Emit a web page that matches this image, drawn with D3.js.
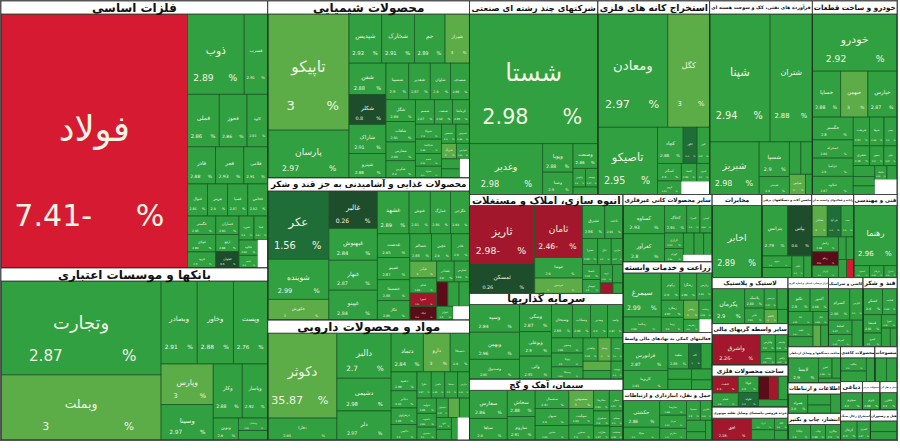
<!DOCTYPE html>
<html>
<head>
<meta charset="utf-8">
<script src="https://cdn.jsdelivr.net/npm/d3@7"></script>
<style>
body { margin: 0; background: #fff; }
svg { display: block; font-family: "DejaVu Sans", sans-serif; }
</style>
</head>
<body>
<svg id="map" width="900" height="448"></svg>
<script>
var width = 896, height = 439;

// sectors, in the order the map places them
var sectorNames = [
  "فلزات اساسی", "بانکها و موسسات اعتباری", "محصولات شیمیایی",
  "محصولات غذایی و آشامیدنی به جز قند و شکر", "مواد و محصولات دارویی",
  "شرکتهای چند رشته ای صنعتی", "استخراج کانه های فلزی",
  "فرآورده های نفتی، کک و سوخت هسته ای", "خودرو و ساخت قطعات",
  "انبوه سازی، املاک و مستغلات", "سرمایه گذاریها", "سیمان، آهک و گچ",
  "سایر محصولات کانی غیرفلزی", "زراعت و خدمات وابسته",
  "فعالیتهای کمکی به نهادهای مالی واسط", "حمل و نقل، انبارداری و ارتباطات",
  "مخابرات", "ماشین آلات و دستگاههای برقی", "رایانه و فعالیتهای وابسته به آن",
  "فنی و مهندسی", "لاستیک و پلاستیک", "سایر واسطه گریهای مالی",
  "ساخت محصولات فلزی", "خرده فروشی،باستثنای وسایل نقلیه موتوری",
  "ابزار پزشکی، اپتیکی و اندازه گیری", "کاشی و سرامیک", "قند و شکر",
  "ساخت دستگاهها و وسایل ارتباطی", "اطلاعات و ارتباطات", "انتشار، چاپ و تکثیر",
  "محصولات کاغذی", "منسوجات", "دباغی", "محصولات چرمی", "حمل و نقل آبی",
  "استخراج زغال سنگ", "هتل و رستوران"
];

// symbols per sector ("" = empty cell)
var tileNames = [
  ["فولاد","ذوب","فسرب","فملی","فخوز","کاوه","فاذر","فجر","فلامی","فنوال","هرمز","فسپا","فخاس","فگستر","فولای","فرود","فسازان","ارفع","فجهان","فنورد","فپنتا","فکاوه","فامیر",""],
  ["وتجارت","وبملت","وبصادر","وخاور","وپست","وپارس","وسینا","وکار","وپاسار","ونوین","وسامان","وآیند"],
  ["تاپیکو","پارسان","شپدیس","شخارک","جم","شیراز","شفن","شکلر","شاراک","شپترو","شسینا","شغدیر","شاوان","شصدف","شگل","شلعاب","شفارس","شکربن","شسم","شنفت","کرماشا","شتوکا","شپاکسا","شجم","شمواد","شبصیر","شدوص","شزنگ","شپارس","شرنگی","شیران",""],
  ["عکر","شوینده","غکورش","غالبر","غبهنوش","غبهار","غپینو","غشهد","غنوش","غمارگ","غگرجی","غدشت","غمینو","غشصفا","غگل","غسالم","غچین","غاذر","غپآذر","غدام","غمهرا","غپاک","غشاذر","غفارس","غخزر","غزر","غصینو","غیوان",""],
  ["دکوثر","دفارا","دالبر","دشیمی","دلر","دتماد","دارو","دسبحا","دعبید","دجابر","دزهراوی","دکیمی","دفرا","دامین","دسینا","دپارس","دتولید","داسوه","دشیری","دکپسول","دبالک","درازک","داوه","دقاضی","دیران",""],
  ["شستا","وغدیر","وپویا","وصنا","وصنعت","واتوس","وتوسم","ونیرو"],
  ["ومعادن","کگل","تاصیکو","کچاد","کگهر","کنور","کمنگنز","کروی","کدما","کپرور",""],
  ["شپنا","شتران","شبریز","شسپا","شبندر","شرانل","نفتا","شپاس","شبهرن"],
  ["خودرو","خساپا","خبهمن","خپارس","خگستر","خمحرکه","خزامیا","خکاوه","خریخت","ختوقا","خفنر","خشرق","خمهر","خاور","خاهن","خرینگ","خچرخش","خکمک","خلنت",""],
  ["ثاریز","ثمسکن","ثامان","ثنوسا","ثپردیس","ثشرق","ثاخت","ثعمرا","ثباغ","ثفارس","ثاصفا","ثبهساز","ثرود","ثالوند","ثشاهد","ثنظام"],
  ["وسپه","وبهمن","وصندوق","ونیکی","وبوعلی","واتی","وسبحان","وسکاب","ومدیر","وامید","وسپهر","وتوکا","وسمگا","وکغدیر","وساپا","ونفت","وآتوس","ولساپا","وتوشه"],
  ["سفارس","سپاها","سخاش","ساروم","سشمال","سبهان","سدور","سصوفی","سهگمت","سخزر","سکرما","سفار","سشرق","ساراب","سفانو","سدشت"],
  ["کساوه","کفرآور","کخاک","کسرا","کچینی","کرازی","کهرام","کفپارس","کسعدی","کلوند",""],
  ["سیمرغ","زمگسا","زکوثر","زشگزا","زپارس","زملارد","زبینا","زفجر","زدشت","زشریف",""],
  ["فرابورس","کاریزما","مفید","آگاه","سیتا","نیان","بورس","اوان","تمدن"],
  ["حکشتی","حتوکا","حپارسا","حریل","حفارس","حسینا","حآفرین","حبندر","حسیر","حشکوه"],
  ["اخابر"],
  ["بترانس","بپاس","بموتو","بنیرو","بکاب","بالبر"],
  ["مفاخر","فن آوا","سپ","رکیش","رتکو","اپرداز","سیستم","مداران","افرانت","رانفور"],
  ["رهنما","کیسون","مرقام","خدیزل"],
  ["پکرمان","پلاسک","پتایر","پدرخش","پسهند","پاکشو","پارتا"],
  ["واشرق","ولپارس","ولصنم","ولملت","وکادو"],
  ["فنفت","فجام","فوکا","فلوله","فبیرا","فاراک","فتوسا","فزر"],
  ["افق","اترک","کالا","اکالا","افرا"],
  ["تکنو","آکنتور","تابا","لطیف","درمان","اپال","کپشیر","لکما"],
  ["کسرام","کپارس","کحافظ","کمرجان","کاسپین"],
  ["قشکر","قثابت","قنیشا","قمرو","قپیرا","قزوین","قشیر"],
  ["لابسا","لخزر","لسرما","لپارس"],
  ["همراه","آپ","اعتلا","تاپ"],
  ["چکاپا","چاپ","چکارن"],
  ["چکاوه","چفیبر","چدن"],
  ["نبروج","نطرین"],
  ["سچرم"],
  ["چرم"],
  ["حخزر"],
  ["کزغال","کشرق"],
  ["گکیش","گشان"]
];

// market size of each symbol
var tileSizes = [
  [499,48,20,17.6,15.4,11.5,11,11,9.4,6.8,6.8,6.8,6.8,5.5,5.2,4.8,4.5,4.2,4,3.8,3.5,3,2.5,3],
  [163,113,32.5,32.5,31,23,20,17,15,6,4,3],
  [102,42,17.4,17.4,16.3,13,12.5,12,11.6,9.8,9,8.5,8,7.5,7,6.5,6,5.5,5,4.8,4.5,4.2,4,3.6,3.3,3,2.8,2.5,2.2,2,1.8,2],
  [46,27,14,20,17,16,16,15,10,9.5,9,8.5,8,7.5,7,6.5,6,5.5,5,4.5,4,4,4,3.5,3,3,2.8,2.5,2.5],
  [66,17,27.5,20,17.7,14,11.7,8.4,5.5,5,4.8,4.5,4.2,4,3.8,3.5,3.3,3,2.8,2.6,2.4,2.2,2,1.8,1.6,3],
  [179,40,9.3,7.3,6.6,2.5,2.5,2],
  [85,51,43,10,5.4,4.9,4.5,3.5,3,2.5,4],
  [83,58,28,11.3,5.8,4,4,3.5,1.5],
  [52,14,13.4,14.4,10,8,8,8,5,4.5,4,3.5,3,2.8,2.5,2.2,2,1.8,1.5,3.6],
  [42.7,22,28,11,8.3,8.3,6.8,4.5,4,3.5,3,2.8,2.5,2.2,1.5,1.2],
  [16,15.6,11.5,10,9,8.5,8,7,6.5,6,5.5,5,4.5,4,3.5,3.2,3,2.8,2.5],
  [13,10,9,8,7.5,7,6,5.5,5,4.5,4,3.5,3,2.8,2.5,2.2],
  [14,14,7.3,4.4,4,3.5,3,2.8,2.5,2.2,2.5],
  [20,7,6,5.5,5,4.5,4,3.5,3,2.5,2],
  [15,10.7,6.5,4,3.5,3,3,2.8,2.5],
  [12.5,6,5,4.5,4,3.5,3,2.8,2,1.7],
  [41.5],
  [15,14,4,3.5,3,2],
  [5.6,5,4.6,4.6,4.3,3.7,2,2,1.7,1.5],
  [30,2.2,2,1.8],
  [15,5,4,3.5,3,2.5,2],
  [20,3.5,3,2.8,2.2],
  [6,5,4.5,4,3.5,3,3,3],
  [13,4,3.5,2.5,2],
  [6,5,4,3.5,3,2.5,2,2],
  [8,5,4,3.5,3.5],
  [6,4.5,4,3,2.5,2,1.5],
  [11,4,2.5,1.5],
  [6,4,3,3],
  [6,4,4],
  [5,4,3],
  [4,3.7],
  [6.2],
  [5],
  [4.8],
  [5,4],
  [4.5,3.5]
];

// daily change, percent (null = empty cell)
var tileChanges = [
  [-7.41,2.89,2.91,2.86,2.86,2.91,2.88,2.93,2.91,2.86,2.9,2.87,2.92,2.95,2.89,2.9,2.91,2.88,0.6,2.9,2.87,2.92,2.9,null],
  [2.87,3,2.91,2.88,2.76,3,2.97,2.88,2.92,2.9,2.85,2.9],
  [3,2.97,2.92,2.91,2.89,3,2.88,0.8,2.91,2.88,2.9,2.87,2.9,2.86,2.89,2.91,2.88,2.9,2.87,2.92,2.86,2.9,2.88,2.91,2.87,2.9,2.86,3,2.89,2.9,2.88,null],
  [1.56,2.99,3,0.26,2.84,2.87,2.84,2.89,2.91,2.86,2.84,2.85,2.87,2.88,2.86,2.88,2.9,2.9,3,2.88,-1.8,-0.4,2.9,2.86,-0.6,2.9,2.88,2.9,null],
  [35.87,2.95,2.7,2.98,2.97,2.84,3,2.9,2.88,2.91,2.86,2.9,2.87,2.89,2.9,2.92,2.88,2.86,2.9,2.87,3,2.89,2.9,2.88,2.9,null],
  [2.98,2.98,2.88,2.9,2.86,2.9,2.87,2.88],
  [2.97,3,2.95,2.88,1.2,2.87,2.9,2.92,2.86,2.9,null],
  [2.94,2.88,2.98,2.9,2.9,2.87,2.91,3,2.89],
  [2.92,2.88,3,2.87,2.8,2.86,2.9,2.87,2.91,2.88,2.9,2.86,2.9,2.87,2.89,2.9,2.86,2.92,2.9,null],
  [-2.98,0.26,-2.46,2.9,3,2.86,2.91,2.88,2.9,2.87,2.92,2.9,2.88,2.9,-1.4,2.89],
  [2.84,2.96,2.86,2.87,2.9,2.91,2.88,2.86,2.9,2.87,2.89,2.9,2.86,2.92,3,2.9,3,2.88,2.9],
  [2.86,2.9,2.88,2.91,2.87,2.9,2.89,3,2.88,2.9,2.86,2.91,2.9,2.87,2.9,2.88],
  [2.93,2.8,2.95,2.9,2.88,2.91,2.86,2.9,2.87,2.9,null],
  [2.99,2.88,2.9,2.86,2.91,2.87,2.9,3,2.88,2.9,null],
  [2.87,2.91,2.88,1.0,2.9,2.86,2.9,2.88,2.87],
  [2.86,2.9,2.88,2.91,2.87,2.9,2.86,2.9,2.88,2.9],
  [2.89],
  [2.79,0.6,2.9,2.88,2.9,2.87],
  [3,1.4,2.9,2.88,-0.8,2.9,2.87,2.9,2.88,-4.5],
  [2.96,2.9,2.88,2.9],
  [2.9,2.88,2.91,2.87,2.9,3,2.88],
  [-2.26,2.9,2.88,2.9,2.87],
  [-2.4,2.9,2.9,1.1,-0.7,-1.7,2.88,2.9],
  [-2.18,2.9,2.88,2.9,2.87],
  [2.9,2.88,2.91,2.87,2.9,2.86,3,2.88],
  [2.88,2.9,2.87,2.91,2.9],
  [2.9,2.88,2.91,2.9,2.87,2.9,2.86],
  [2.9,2.88,2.9,2.87],
  [2.9,2.88,2.91,2.87],
  [2.9,2.88,2.9],
  [2.9,2.88,2.91],
  [2.9,2.87],
  [2.9],
  [2.88],
  [2.9],
  [2.9,2.87],
  [2.9,2.88]
];

var colorScale = d3.scaleThreshold()
  .domain([-3, -1, 0, 1, 2, 3])
  .range(["#d51a31", "#a3172c", "#5a0d18", "#1e4d2b", "#1f6e37", "#31a041", "#5cad47"]);
var textColor = "#f2f5e2";
var fmt = function(v) { return d3.format(".2~f")(Math.abs(v)) + (v < 0 ? "-" : ""); };

var rootData = { name: "root", children: sectorNames.map(function(s, i) {
  return { name: s, children: tileNames[i].map(function(t, j) {
    return { name: t, size: tileSizes[i][j], change: tileChanges[i][j] };
  }) };
}) };

function headerH(d) { return d.value >= 160 ? 13 : 11; }

var root = d3.hierarchy(rootData).sum(function(d) { return d.children ? 0 : d.size; });
d3.treemap()
  .size([width, height])
  .tile(d3.treemapSquarify)
  .paddingTop(function(d) { return d.depth === 1 ? headerH(d) : 0; })(root);

var svg = d3.select("#map");
var g = svg.append("g").attr("transform", "translate(1,1)");

// tiles
var cell = g.selectAll("g.tile")
  .data(root.leaves())
  .enter().append("g")
  .attr("class", "tile")
  .attr("transform", function(d) { return "translate(" + d.x0 + "," + d.y0 + ")"; });

cell.append("rect")
  .attr("width", function(d) { return d.x1 - d.x0; })
  .attr("height", function(d) { return d.y1 - d.y0; })
  .attr("fill", function(d) { return d.data.change == null ? "#fff" : colorScale(d.data.change); })
  .attr("stroke", function(d) { return d.data.change == null ? "none" : "#1b5a26"; })
  .attr("stroke-width", 0.8);

cell.filter(function(d) { return d.data.change != null; }).each(function(d) {
  var w = d.x1 - d.x0, h = d.y1 - d.y0;
  var fs = Math.min(w, h) * 0.19;
  if (fs < 2.2) return;
  var el = d3.select(this);
  var name = el.append("text")
    .attr("x", w / 2).attr("y", h * 0.46)
    .attr("text-anchor", "middle").attr("dominant-baseline", "middle")
    .attr("font-size", fs).attr("fill", textColor)
    .text(d.data.name);
  var len = name.node().getComputedTextLength();
  if (len > w * 0.85) name.attr("font-size", fs * w * 0.85 / len);
  var nf = fs * 0.85;
  el.append("text")
    .attr("x", w * 0.28).attr("y", h * 0.8)
    .attr("text-anchor", "middle").attr("dominant-baseline", "middle")
    .attr("font-size", nf).attr("fill", textColor)
    .text(fmt(d.data.change));
  el.append("text")
    .attr("x", w * 0.8).attr("y", h * 0.8)
    .attr("text-anchor", "middle").attr("dominant-baseline", "middle")
    .attr("font-size", nf).attr("fill", textColor)
    .text("%");
});

// sector outlines and headers
var sec = g.selectAll("g.sector")
  .data(root.children)
  .enter().append("g")
  .attr("class", "sector");

sec.append("rect")
  .attr("x", function(d) { return d.x0; })
  .attr("y", function(d) { return d.y0; })
  .attr("width", function(d) { return d.x1 - d.x0; })
  .attr("height", function(d) { return d.y1 - d.y0; })
  .attr("fill", "none")
  .attr("stroke", "#1d3a22")
  .attr("stroke-width", 1);

sec.append("rect")
  .attr("x", function(d) { return d.x0; })
  .attr("y", function(d) { return d.y0; })
  .attr("width", function(d) { return d.x1 - d.x0; })
  .attr("height", function(d) { return headerH(d); })
  .attr("fill", "#fff")
  .attr("stroke", "#333")
  .attr("stroke-width", 0.8);

sec.each(function(d) {
  var w = d.x1 - d.x0;
  var base = d.value >= 140 ? 12 : d.value >= 100 ? 10.5 : d.value >= 45 ? 8.5 : 6;
  var t = d3.select(this).append("text")
    .attr("x", d.x0 + w / 2).attr("y", d.y0 + headerH(d) / 2 + 0.5)
    .attr("text-anchor", "middle").attr("dominant-baseline", "middle")
    .attr("font-size", base).attr("font-weight", "bold").attr("fill", "#111")
    .text(d.data.name);
  var len = t.node().getComputedTextLength();
  if (len > w * 0.97) t.attr("font-size", base * w * 0.97 / len);
});

// outer frame
svg.append("rect")
  .attr("x", 0.5).attr("y", 0.5)
  .attr("width", width + 1).attr("height", height + 1)
  .attr("fill", "none").attr("stroke", "#555").attr("stroke-width", 1);
</script>
</body>
</html>
